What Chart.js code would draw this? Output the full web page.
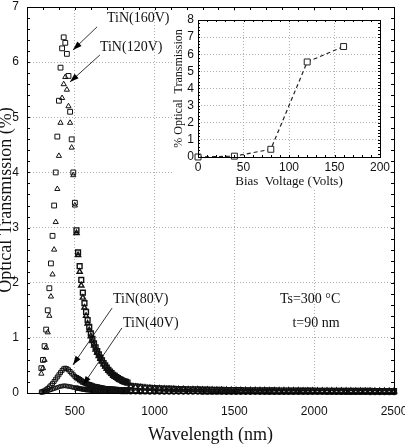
<!DOCTYPE html>
<html>
<head>
<meta charset="utf-8">
<script src="https://cdn.jsdelivr.net/npm/chart.js@4.4.0/dist/chart.umd.min.js"></script>
<style>
html, body { margin: 0; padding: 0; background: #fff; }
#wrap { position: relative; width: 405px; height: 446px; overflow: hidden; }
#main { position: absolute; left: 0; top: 0; }
#inset { position: absolute; left: 172px; top: 11px; background: #fff; }
</style>
</head>
<body>
<div id="wrap">
  <canvas id="main" width="405" height="446"></canvas>
  <canvas id="inset" width="218" height="177"></canvas>
</div>
<script>
// wavelength grid of the measured spectra (nm)
var peakWavelength = [290,300,310,320,330,340,350,360,370,380,
    390,400,410,420,430,440,450,460,470,480,
    490,500,510,520,530,540,550,560,570,580,
    590,600,610,620,630,640,650,660,670,680,
    690,700,710,720,730,740,750,760,770,780,
    790,800,810,820,830]
var tailWavelength = [850,880,910,940,970,1000,1030,1060,1090,1120,
    1150,1180,1210,1240,1270,1300,1330,1360,1390,1420,
    1450,1480,1510,1540,1570,1600,1630,1660,1690,1720,
    1750,1780,1810,1840,1870,1900,1930,1960,1990,2020,
    2050,2080,2110,2140,2170,2200,2230,2260,2290,2320,
    2350,2380,2410,2440,2470,2500]

// optical transmission (%)
var tin160Peak = [0.45,0.6,0.85,1.15,1.5,1.9,2.35,2.85,3.4,4.0,
    4.65,5.3,5.9,6.25,6.45,6.35,6.15,5.75,5.1,4.6,
    4.0,3.45,2.95,2.55,2.3,2.05,1.82,1.63,1.47,1.32,
    1.2,1.08,0.98,0.9,0.83,0.76,0.7,0.64,0.59,0.54,
    0.5,0.46,0.42,0.39,0.36,0.33,0.31,0.29,0.27,0.25,
    0.24,0.22,0.21,0.2,0.19]
var tin160Tail = [0.13,0.12,0.11,0.1,0.095,0.09,0.085,0.08,0.078,0.075,
    0.072,0.07,0.068,0.066,0.064,0.062,0.06,0.058,0.056,0.055,
    0.054,0.053,0.052,0.051,0.05,0.05,0.049,0.048,0.047,0.047,
    0.046,0.045,0.045,0.044,0.044,0.043,0.043,0.042,0.042,0.041,
    0.041,0.04,0.04,0.04,0.039,0.039,0.038,0.038,0.038,0.037,
    0.037,0.036,0.036,0.036,0.035,0.035]

var tin120Peak = [0.35,0.45,0.6,0.82,1.1,1.4,1.75,2.15,2.6,3.1,
    3.7,4.3,4.9,5.35,5.6,5.73,5.5,5.2,4.9,4.45,
    3.95,3.4,2.9,2.5,2.2,1.95,1.73,1.55,1.4,1.26,
    1.14,1.03,0.94,0.86,0.79,0.73,0.67,0.62,0.57,0.52,
    0.48,0.44,0.41,0.38,0.35,0.32,0.3,0.28,0.26,0.24,
    0.23,0.21,0.2,0.19,0.18]
var tin120Tail = [0.12,0.11,0.1,0.095,0.09,0.085,0.08,0.076,0.072,0.07,
    0.067,0.065,0.063,0.061,0.06,0.058,0.056,0.055,0.053,0.052,
    0.051,0.05,0.049,0.048,0.047,0.047,0.046,0.045,0.045,0.044,
    0.043,0.043,0.042,0.042,0.041,0.041,0.04,0.04,0.039,0.039,
    0.038,0.038,0.037,0.037,0.037,0.036,0.036,0.035,0.035,0.035,
    0.034,0.034,0.034,0.033,0.033,0.033]

var tin80Peak = [0.02,0.03,0.04,0.06,0.08,0.11,0.14,0.17,0.21,0.25,
    0.29,0.33,0.37,0.41,0.44,0.45,0.44,0.42,0.39,0.36,
    0.33,0.3,0.28,0.26,0.24,0.22,0.2,0.19,0.17,0.16,
    0.15,0.14,0.13,0.12,0.115,0.11,0.1,0.095,0.09,0.085,
    0.08,0.078,0.075,0.072,0.07,0.068,0.066,0.064,0.062,0.06,
    0.058,0.056,0.055,0.054,0.053]
var tin80Tail = [0.045,0.043,0.041,0.039,0.037,0.036,0.035,0.034,0.033,0.032,
    0.031,0.03,0.03,0.029,0.029,0.028,0.028,0.027,0.027,0.026,
    0.026,0.026,0.025,0.025,0.025,0.024,0.024,0.024,0.023,0.023,
    0.023,0.023,0.022,0.022,0.022,0.022,0.021,0.021,0.021,0.021,
    0.02,0.02,0.02,0.02,0.02,0.019,0.019,0.019,0.019,0.019,
    0.018,0.018,0.018,0.018,0.018,0.018]

var tin40Peak = [0.01,0.015,0.02,0.03,0.04,0.05,0.06,0.07,0.08,0.09,
    0.1,0.11,0.12,0.125,0.13,0.13,0.125,0.12,0.115,0.11,
    0.1,0.095,0.09,0.085,0.08,0.075,0.07,0.065,0.06,0.058,
    0.055,0.052,0.05,0.048,0.046,0.044,0.042,0.04,0.039,0.038,
    0.037,0.036,0.035,0.034,0.033,0.032,0.031,0.03,0.03,0.029,
    0.028,0.028,0.027,0.027,0.026]
var tin40Tail = [0.022,0.021,0.02,0.02,0.019,0.019,0.018,0.018,0.017,0.017,
    0.017,0.016,0.016,0.016,0.016,0.015,0.015,0.015,0.015,0.015,
    0.014,0.014,0.014,0.014,0.014,0.014,0.013,0.013,0.013,0.013,
    0.013,0.013,0.013,0.012,0.012,0.012,0.012,0.012,0.012,0.012,
    0.012,0.011,0.011,0.011,0.011,0.011,0.011,0.011,0.011,0.011,
    0.01,0.01,0.01,0.01,0.01,0.01]

var xTickValues = [500,1000,1500,2000,2500]
var yTickValues = [0,1,2,3,4,5,6,7]

// inset: peak transmission vs bias
var biasVoltage = [0,40,80,120,160]
var biasTransmission = [0,0.05,0.45,5.55,6.45]
var insetXTicks = [0,50,100,150,200]
var insetYTicks = [0,1,2,3,4,5,6,7,8]

// labels and arrows, in data units
var notes = [
    {text: 'TiN(160V)', x: 701, y: 6.80, align: 'left'},
    {text: 'TiN(120V)', x: 657, y: 6.26, align: 'left'},
    {text: 'TiN(80V)', x: 739, y: 1.69, align: 'left'},
    {text: 'TiN(40V)', x: 802, y: 1.27, align: 'left'},
    {text: 'Ts=300 °C', x: 1974, y: 1.69, align: 'center'},
    {text: 't=90 nm', x: 2011, y: 1.27, align: 'center'}
]
var arrows = [
    {x1: 639, y1: 6.64, x2: 488, y2: 6.22},
    {x1: 657, y1: 6.13, x2: 469, y2: 5.64},
    {x1: 733, y1: 1.54, x2: 488, y2: 0.51},
    {x1: 795, y1: 1.18, x2: 551, y2: 0.145}
]

Chart.defaults.font.family = '"Liberation Sans", Arial, sans-serif'
Chart.defaults.color = '#111'

function toPoints(xs1, ys1, xs2, ys2){
    let pts = []
    for(let i=0;i<xs1.length;i++){ pts.push({x: xs1[i], y: ys1[i]}) }
    for(let i=0;i<xs2.length;i++){ pts.push({x: xs2[i], y: ys2[i]}) }
    return pts
}

function series(label, pts, style, radius){
    return {
        label: label,
        data: pts,
        pointStyle: style,
        pointRadius: radius,
        // the dense decay and tail read as a dark band in the original
        pointBorderWidth: function(c){ return c.raw && c.raw.x > 500 ? 1.4 : 1.0 },
        pointBorderColor: '#111',
        pointBackgroundColor: 'rgba(255,255,255,0)',
        showLine: false,
        clip: 5
    }
}

function plainTick(v){ return String(v) }

function drawMinorTicks(ctx, area, xs, ys, xStep, yStep, len){
    ctx.beginPath()
    for(let v = xs.min; v <= xs.max + 1e-9; v += xStep){
        let px = Math.round(xs.getPixelForValue(v)) + 0.5
        ctx.moveTo(px, area.top); ctx.lineTo(px, area.top + len)
        ctx.moveTo(px, area.bottom); ctx.lineTo(px, area.bottom - len)
    }
    for(let v = ys.min; v <= ys.max + 1e-9; v += yStep){
        let py = Math.round(ys.getPixelForValue(v)) + 0.5
        ctx.moveTo(area.left, py); ctx.lineTo(area.left + len, py)
        ctx.moveTo(area.right, py); ctx.lineTo(area.right - len, py)
    }
    ctx.stroke()
}

var mainDecor = {
    id: 'mainDecor',
    afterDraw: function(chart){
        let ctx = chart.ctx, a = chart.chartArea, xs = chart.scales.x, ys = chart.scales.y
        ctx.save()
        ctx.strokeStyle = '#000'
        ctx.lineWidth = 1
        drawMinorTicks(ctx, a, xs, ys, 100, 0.2, 3)
        ctx.strokeRect(Math.round(a.left) + 0.5, Math.round(a.top) + 0.5, Math.round(a.right - a.left), Math.round(a.bottom - a.top))

        // arrows
        ctx.lineWidth = 0.8
        ctx.fillStyle = '#000'
        arrows.forEach(function(ar){
            let x1 = xs.getPixelForValue(ar.x1), y1 = ys.getPixelForValue(ar.y1)
            let x2 = xs.getPixelForValue(ar.x2), y2 = ys.getPixelForValue(ar.y2)
            let ang = Math.atan2(y2 - y1, x2 - x1)
            ctx.beginPath(); ctx.moveTo(x1, y1); ctx.lineTo(x2, y2); ctx.stroke()
            ctx.beginPath()
            ctx.moveTo(x2, y2)
            ctx.lineTo(x2 - 9*Math.cos(ang) + 3*Math.sin(ang), y2 - 9*Math.sin(ang) - 3*Math.cos(ang))
            ctx.lineTo(x2 - 9*Math.cos(ang) - 3*Math.sin(ang), y2 - 9*Math.sin(ang) + 3*Math.cos(ang))
            ctx.closePath(); ctx.fill()
        })

        // labels
        ctx.fillStyle = '#111'
        ctx.textBaseline = 'middle'
        ctx.font = '14px "Liberation Serif", "Times New Roman", serif'
        notes.forEach(function(n){
            ctx.textAlign = n.align
            ctx.fillText(n.text, xs.getPixelForValue(n.x), ys.getPixelForValue(n.y))
        })

        // axis titles
        ctx.font = '18px "Liberation Serif", "Times New Roman", serif'
        ctx.textAlign = 'center'
        ctx.fillText('Wavelength (nm)', (a.left + a.right)/2, 435)
        ctx.translate(6, (a.top + a.bottom)/2)
        ctx.rotate(-Math.PI/2)
        ctx.fillText('Optical Transmission (%)', 0, 0)
        ctx.restore()
    }
}

var mainCtx = document.getElementById('main').getContext('2d')
new Chart(mainCtx, {
    type: 'scatter',
    data: {
        datasets: [
            series('TiN(40V)', toPoints(peakWavelength, tin40Peak, tailWavelength, tin40Tail), 'circle', 2),
            series('TiN(80V)', toPoints(peakWavelength, tin80Peak, tailWavelength, tin80Tail), 'rect', 2.8),
            series('TiN(120V)', toPoints(peakWavelength, tin120Peak, tailWavelength, tin120Tail), 'triangle', 3),
            series('TiN(160V)', toPoints(peakWavelength, tin160Peak, tailWavelength, tin160Tail), 'rect', 3.4)
        ]
    },
    options: {
        responsive: false,
        animation: false,
        layout: { padding: { left: 0, right: 11, top: 7, bottom: 0 } },
        plugins: { legend: { display: false }, tooltip: { enabled: false } },
        scales: {
            x: {
                type: 'linear', min: 200, max: 2500,
                afterBuildTicks: function(s){ s.ticks = xTickValues.map(v => ({value: v})) },
                afterFit: function(s){ s.height = 53; s.paddingLeft = 0; s.paddingRight = 0 },
                grid: { color: '#999', lineWidth: 0.8, drawTicks: false },
                border: { display: false, dash: [1, 2] },
                ticks: { padding: 11, autoSkip: false, maxRotation: 0, font: { size: 12 }, color: '#111', callback: plainTick }
            },
            y: {
                type: 'linear', min: 0, max: 7,
                afterBuildTicks: function(s){ s.ticks = yTickValues.map(v => ({value: v})) },
                afterFit: function(s){ s.width = 27; s.paddingTop = 0; s.paddingBottom = 0 },
                grid: { color: '#999', lineWidth: 0.8, drawTicks: false },
                border: { display: false, dash: [1, 2] },
                ticks: { padding: 8, autoSkip: false, font: { size: 12 }, color: '#111', callback: plainTick }
            }
        }
    },
    plugins: [mainDecor]
})

var insetDecor = {
    id: 'insetDecor',
    afterDraw: function(chart){
        let ctx = chart.ctx, a = chart.chartArea, xs = chart.scales.x, ys = chart.scales.y
        ctx.save()
        ctx.strokeStyle = '#000'
        ctx.lineWidth = 1
        drawMinorTicks(ctx, a, xs, ys, 10, 0.2, 2)
        ctx.strokeRect(Math.round(a.left) + 0.5, Math.round(a.top) + 0.5, Math.round(a.right - a.left), Math.round(a.bottom - a.top))
        ctx.fillStyle = '#111'
        ctx.textAlign = 'center'
        ctx.textBaseline = 'middle'
        ctx.font = '13px "Liberation Serif", "Times New Roman", serif'
        ctx.fillText('Bias  Voltage (Volts)', 117, 171)
        ctx.font = '12px "Liberation Serif", "Times New Roman", serif'
        ctx.translate(7, (a.top + a.bottom)/2)
        ctx.rotate(-Math.PI/2)
        ctx.fillText('% Optical  Transmission', 0, 0)
        ctx.restore()
    }
}

var insetCtx = document.getElementById('inset').getContext('2d')
new Chart(insetCtx, {
    type: 'scatter',
    data: {
        datasets: [{
            label: 'peak',
            data: biasVoltage.map((v, i) => ({x: v, y: biasTransmission[i]})),
            showLine: true,
            borderColor: '#222',
            borderWidth: 1.2,
            borderDash: [4, 3],
            pointStyle: 'rect',
            pointRadius: 4.2,
            pointBorderWidth: 1,
            pointBorderColor: '#222',
            pointBackgroundColor: '#fff',
            clip: false
        }]
    },
    options: {
        responsive: false,
        animation: false,
        layout: { padding: { left: 0, right: 10, top: 9, bottom: 0 } },
        plugins: { legend: { display: false }, tooltip: { enabled: false } },
        scales: {
            x: {
                type: 'linear', min: 0, max: 200,
                afterBuildTicks: function(s){ s.ticks = insetXTicks.map(v => ({value: v})) },
                afterFit: function(s){ s.height = 31; s.paddingLeft = 0; s.paddingRight = 0 },
                grid: { color: '#999', lineWidth: 0.8, drawTicks: false },
                border: { display: false, dash: [1, 2] },
                ticks: { padding: 3, autoSkip: false, maxRotation: 0, font: { size: 12 }, color: '#111', callback: plainTick }
            },
            y: {
                type: 'linear', min: 0, max: 8,
                afterBuildTicks: function(s){ s.ticks = insetYTicks.map(v => ({value: v})) },
                afterFit: function(s){ s.width = 26; s.paddingTop = 0; s.paddingBottom = 0 },
                grid: { color: '#999', lineWidth: 0.8, drawTicks: false },
                border: { display: false, dash: [1, 2] },
                ticks: { padding: 4, autoSkip: false, font: { size: 12 }, color: '#111', callback: plainTick }
            }
        }
    },
    plugins: [insetDecor]
})
</script>
</body>
</html>
